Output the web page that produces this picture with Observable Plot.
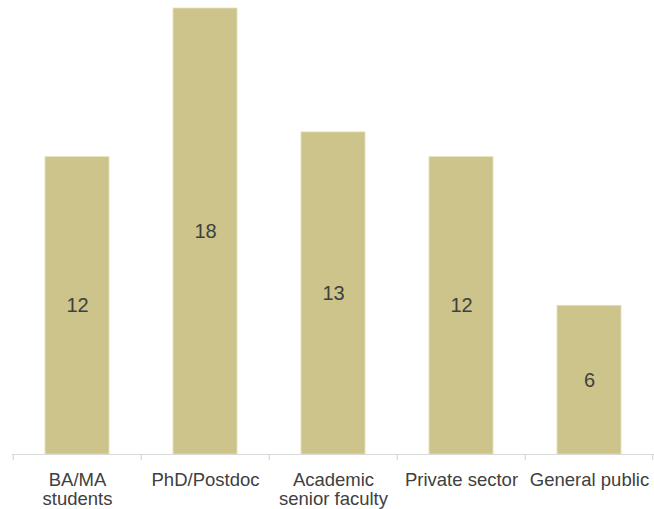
<!DOCTYPE html>
<html>
<head>
<meta charset="utf-8">
<script src="https://cdn.jsdelivr.net/npm/d3@7"></script>
<script src="https://cdn.jsdelivr.net/npm/@observablehq/plot@0.6"></script>
<style>
  html, body { margin: 0; padding: 0; background: #fff; }
  #chart { width: 654px; height: 509px; }
  svg { display: block; }
</style>
</head>
<body>
<div id="chart"></div>
<script>
const categories = ["BA/MA students", "PhD/Postdoc", "Academic senior faculty", "Private sector", "General public"];
const tickLabels = ["BA/MA\nstudents", "PhD/Postdoc", "Academic\nsenior faculty", "Private sector", "General public"];
const values = [12, 18, 13, 12, 6];

const data = categories.map((c, i) => ({category: c, value: values[i]}));
const labelOf = new Map(categories.map((c, i) => [c, tickLabels[i]]));

const W = 654, H = 509, mL = 12, mR = 0;
const step = (W - mL - mR) / categories.length;

const chart = Plot.plot({
  width: W,
  height: H,
  marginTop: 8,
  marginBottom: 55,
  marginLeft: mL,
  marginRight: mR,
  style: {fontFamily: "'Liberation Sans', Arial, sans-serif", background: "#fff"},
  x: {domain: categories, paddingInner: 0.5, paddingOuter: 0.25},
  y: {domain: [0, 18], axis: null},
  marks: [
    Plot.barY(data, {x: "category", y: "value", fill: "#CCC48A", stroke: "#E6E0B8", strokeWidth: 0.8}),
    Plot.text(data, {x: "category", y: d => d.value / 2, text: d => String(d.value), fill: "#404040", fontSize: 20}),
    Plot.ruleY([0], {stroke: "#D9D9D9", strokeWidth: 1.2}),
    Plot.ruleX(categories, {x: d => d, dx: -step / 2, y1: 0, y2: 0, insetBottom: -6, stroke: "#D9D9D9", strokeWidth: 1.2}),
    Plot.ruleX(categories.slice(-1), {x: d => d, dx: step / 2 - 1, y1: 0, y2: 0, insetBottom: -6, stroke: "#D9D9D9", strokeWidth: 1.2}),
    Plot.axisX({tickSize: 0, tickPadding: 17, fontSize: 18.5, lineHeight: 1.07, fill: "#404040", tickFormat: d => labelOf.get(d), label: null})
  ]
});
document.getElementById("chart").appendChild(chart);
</script>
</body>
</html>
